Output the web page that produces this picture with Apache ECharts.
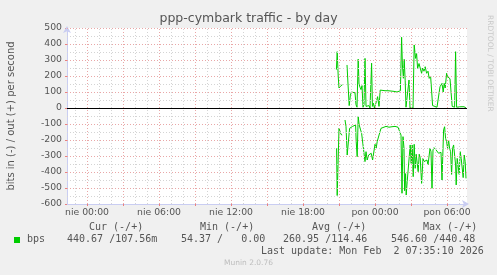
<!DOCTYPE html>
<html><head><meta charset="utf-8">
<script src="https://cdn.jsdelivr.net/npm/echarts@6/dist/echarts.min.js"></script>
<style>html,body{margin:0;padding:0;background:#f0f0f0;}#c{width:497px;height:275px;}</style>
</head><body><div id="c"></div>
<script>
const chartTitle = 'ppp-cymbark traffic - by day';
const yAxisName = 'bits in (-) / out (+) per second';
const sideText = 'RRDTOOL / TOBI OETIKER';
// x in minutes since "nie 00:00"
const xLabelMinutes = [0, 360, 720, 1080, 1440, 1800];
const xLabelTexts = ['nie 00:00', 'nie 06:00', 'nie 12:00', 'nie 18:00', 'pon 00:00', 'pon 06:00'];
const seriesName = 'bps';
const legendHeaders = ['Cur (-/+)', 'Min (-/+)', 'Avg (-/+)', 'Max (-/+)'];
const legendValues = ['440.67 /107.56m', '54.37 /   0.00', '260.95 /114.46', '546.60 /440.48'];
const lastUpdate = 'Last update: Mon Feb  2 07:35:10 2026';
const footer = 'Munin 2.0.76';

const outTimes = [1247,1251,1256,1260,1265,1270,1277,1285,1300,1305,1311,1317,1322,1330,1340,1345,1350,1356,1360,1365,1370,1375,1380,1385,1390,1395,1400,1405,1410,1415,1423,1427,1432,1437,1442,1447,1453,1460,1466,1475,1490,1505,1520,1535,1550,1560,1567,1573,1577,1582,1586,1591,1595,1600,1605,1610,1615,1620,1630,1636,1643,1648,1653,1660,1665,1673,1678,1685,1691,1698,1705,1711,1718,1723,1728,1735,1750,1760,1765,1770,1775,1781,1786,1791,1798,1803,1808,1815,1821,1826,1831,1838,1843,1848,1855,1870,1885,1895];
const outVals = [240,352,200,125,128,140,145,null,269,150,15,80,100,100,95,20,5,305,150,130,115,140,5,20,310,10,0,5,15,0,280,10,30,0,20,40,71,10,112,110,108,108,106,104,100,104,108,442,269,186,304,170,5,0,0,175,0,0,0,394,310,340,248,278,270,217,250,230,258,217,230,185,200,195,15,8,5,8,133,140,154,100,154,125,217,196,186,183,175,10,5,5,352,5,8,8,8,0.1];

const inTimes = [1248,1251,1260,1265,1270,1276,1285,1290,1295,1301,1308,1313,1320,1328,1336,1343,1346,1351,1356,1361,1368,1373,1381,1390,1395,1401,1408,1415,1421,1428,1435,1440,1446,1451,1458,1465,1470,1480,1495,1510,1525,1540,1555,1565,1570,1575,1580,1585,1588,1593,1596,1601,1606,1611,1616,1621,1626,1631,1636,1641,1646,1651,1656,1661,1666,1673,1680,1685,1690,1695,1700,1705,1710,1715,1720,1725,1730,1735,1740,1745,1748,1753,1758,1765,1770,1775,1780,1783,1788,1793,1798,1803,1808,1813,1818,1823,1828,1833,1838,1843,1846,1851,1856,1861,1866,1871,1876,1881,1886,1891,1895];
const inVals = [-252,-547,-127,-137,-165,-169,null,-75,-115,-294,-304,-127,-123,-115,-127,-106,-210,-304,-54,-106,-137,-158,-148,-335,-273,-325,-294,-304,-283,-325,-315,-227,-250,-210,-220,-148,-127,-117,-115,-120,-117,-115,-120,-117,-169,-533,-179,-252,-517,-410,-544,-460,-450,-455,-231,-346,-231,-429,-227,-377,-289,-346,-398,-289,-310,-471,-315,-335,-325,-346,-325,-356,-346,-252,-273,-502,-262,-248,-252,-262,-252,-273,-283,-273,-277,-450,-455,-137,-117,-190,-210,-252,-200,-252,-273,-415,-252,-231,-231,-356,-481,-315,-325,-415,-273,-315,-315,-435,-294,-335,-440];

const X_MIN = -100, X_MAX = 1900, Y_MIN = -600, Y_MAX = 500;
const GRAY = '#d4d4d4', RED = '#e9a7a7', GREEN = '#00cc00', AXIS = '#c9cdf2';

const gridLines = [];
for (let t = -60; t <= 1860; t += 60) {
  gridLines.push({ xAxis: t, lineStyle: { color: (t % 180 === 0) ? RED : GRAY, type: [1, 2], width: 1 } });
}
for (let v = -550; v <= 500; v += 50) {
  if (v === 0) continue;
  gridLines.push({ yAxis: v, lineStyle: { color: (v % 100 === 0) ? RED : GRAY, type: [1, 2], width: 1 } });
}

const chart = echarts.init(document.getElementById('c'), null, { renderer: 'canvas' });
const FONT = 'DejaVu Sans';
const MONO = 'DejaVu Sans Mono';
const txt = (text, x, y, opt) => Object.assign({
  type: 'text', silent: true,
  style: Object.assign({ text: text, x: x, y: y, fill: '#555', font: '10px "' + MONO + '"',
    textAlign: 'left', textVerticalAlign: 'middle', align: 'left', verticalAlign: 'middle' }, opt || {})
});

chart.setOption({
  animation: false,
  backgroundColor: '#f0f0f0',
  grid: { left: 67, right: 30, top: 28, bottom: 71, show: true, backgroundColor: '#ffffff', borderWidth: 0 },
  xAxis: {
    type: 'value', min: X_MIN, max: X_MAX,
    axisLine: { show: true, onZero: false, lineStyle: { color: AXIS, width: 1 }, symbol: ['none', 'arrow'], symbolSize: [6, 7], symbolOffset: [0, 2] },
    axisTick: { show: true, customValues: [0,180,360,540,720,900,1080,1260,1440,1620,1800], length: 2, inside: false, lineStyle: { color: '#e98080' } },
    axisLabel: { customValues: xLabelMinutes, margin: 4, color: '#555', fontFamily: FONT, fontSize: 9.3,
      formatter: v => xLabelTexts[xLabelMinutes.indexOf(v)] },
    splitLine: { show: false }
  },
  yAxis: {
    type: 'value', min: Y_MIN, max: Y_MAX, interval: 100,
    axisLine: { show: true, onZero: false, lineStyle: { color: AXIS, width: 1 }, symbol: ['none', 'arrow'], symbolSize: [6, 7], symbolOffset: [0, 2] },
    axisTick: { show: true, length: 2, lineStyle: { color: '#e98080' } },
    axisLabel: { margin: 5, color: '#555', fontFamily: FONT, fontSize: 9.3 },
    splitLine: { show: false }
  },
  series: [
    {
      type: 'line', z: 1, silent: true, data: [[X_MIN, null]], showSymbol: false,
      markLine: { silent: true, symbol: ['none', 'none'], label: { show: false }, animation: false, data: gridLines }
    },
    {
      type: 'line', z: 2, silent: true, data: [[X_MIN, null]], showSymbol: false,
      markLine: { silent: true, symbol: ['none', 'none'], label: { show: false }, animation: false,
        data: [{ yAxis: 0, lineStyle: { color: '#000', type: 'solid', width: 1 } }] }
    },
    {
      name: seriesName + ' out', type: 'line', z: 3, showSymbol: false, connectNulls: false,
      lineStyle: { color: GREEN, width: 1 },
      data: outTimes.map((t, i) => [t, outVals[i]])
    },
    {
      name: seriesName + ' in', type: 'line', z: 3, showSymbol: false, connectNulls: false,
      lineStyle: { color: GREEN, width: 1 },
      data: inTimes.map((t, i) => [t, inVals[i]])
    }
  ],
  graphic: [
    txt(chartTitle, 248.5, 19, { font: '12.5px "' + FONT + '"', textAlign: 'center', align: 'center', fill: '#555' }),
    Object.assign(txt(yAxisName, 0, 0, { font: '10px "' + FONT + '"', textAlign: 'center', align: 'center', fill: '#555' }), { x: 11, y: 116, rotation: Math.PI / 2 }),
    Object.assign(txt(sideText, 0, 0, { font: '7.5px "' + FONT + '"', fill: '#c8c8c8' }), { x: 489.5, y: 15, rotation: -Math.PI / 2 }),
    txt(legendHeaders[0], 89, 227.5), txt(legendHeaders[1], 200, 227.5),
    txt(legendHeaders[2], 312, 227.5), txt(legendHeaders[3], 423, 227.5),
    { type: 'rect', silent: true, shape: { x: 14, y: 237, width: 6, height: 6 }, style: { fill: GREEN } },
    txt(seriesName, 27, 239.5),
    txt(legendValues[0], 67, 239.5), txt(legendValues[1], 181, 239.5),
    txt(legendValues[2], 283, 239.5), txt(legendValues[3], 391, 239.5),
    txt(lastUpdate, 261, 251.5),
    txt(footer, 248.5, 263.5, { font: '7.5px "' + FONT + '"', fill: '#bdbdbd', textAlign: 'center', align: 'center' })
  ]
});
</script></body></html>
